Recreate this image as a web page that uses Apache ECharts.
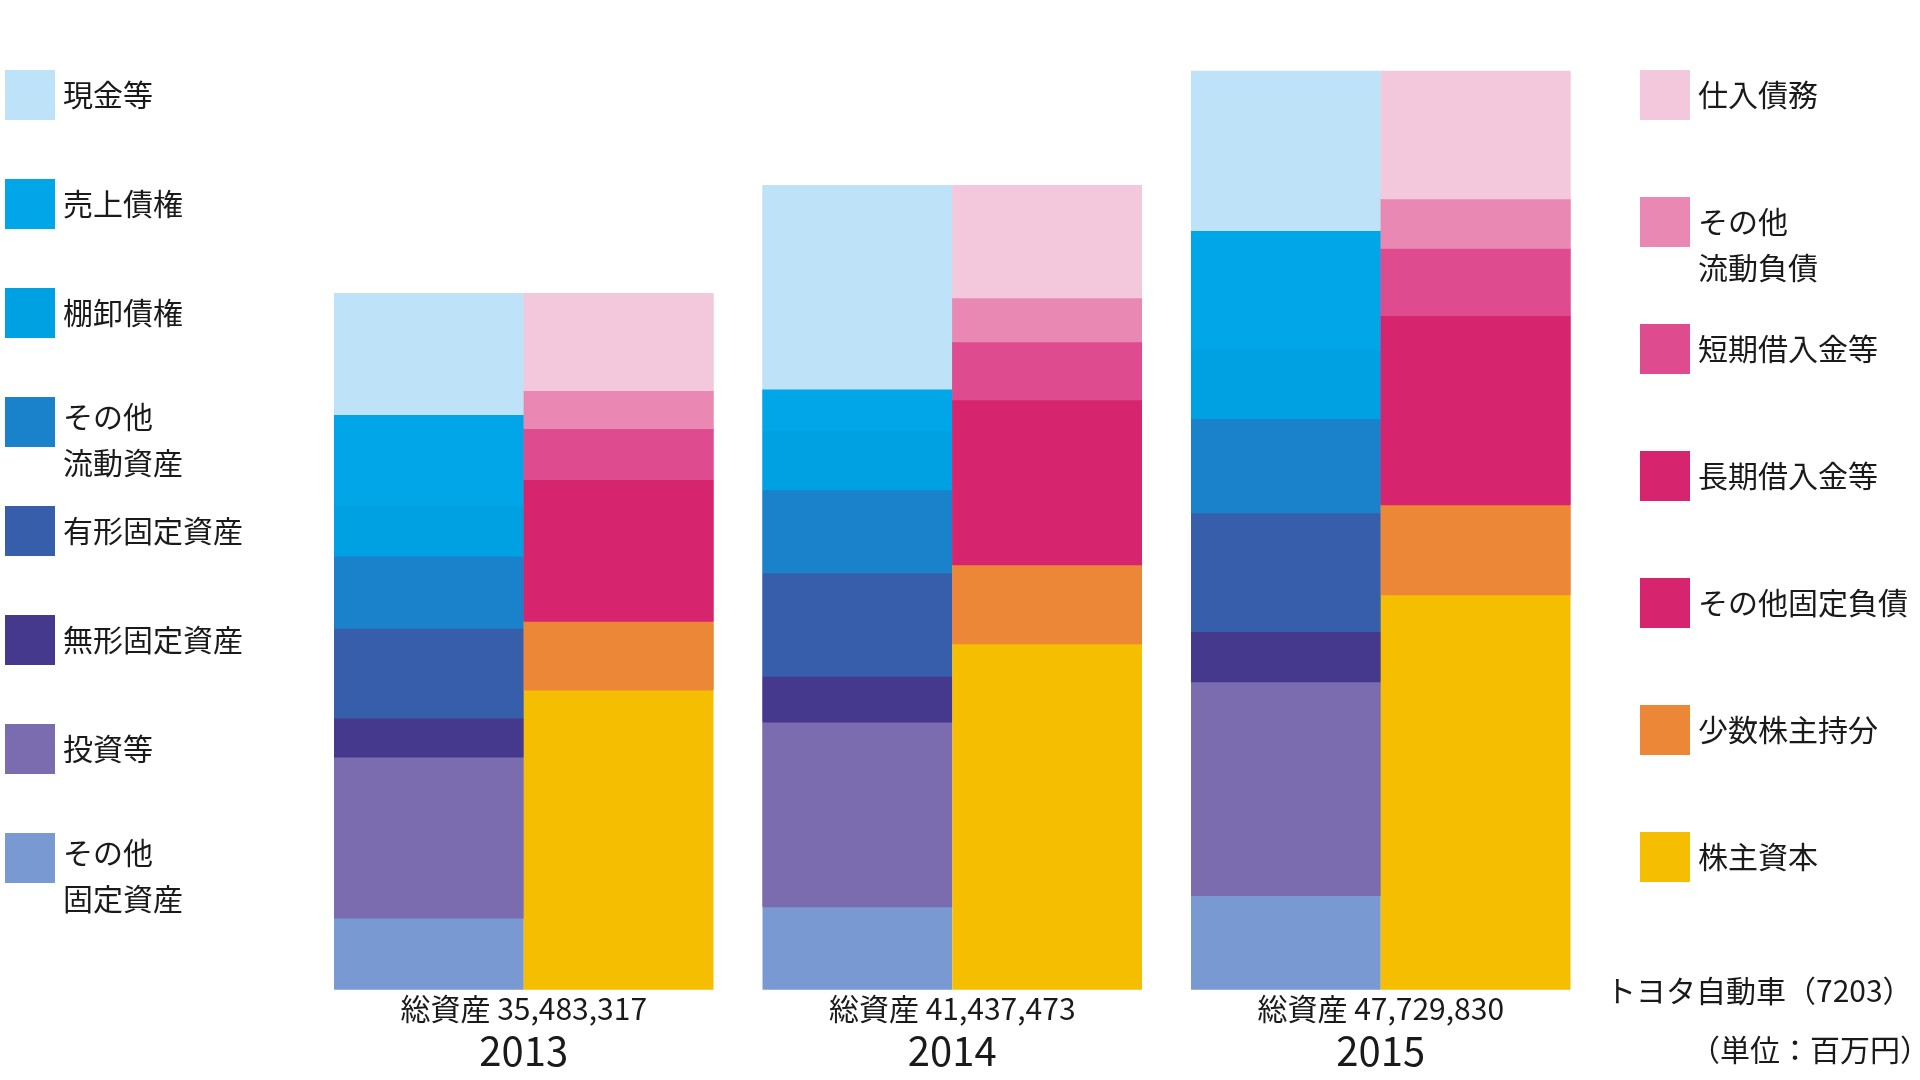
<!DOCTYPE html>
<html><head><meta charset="utf-8">
<script src="https://cdn.jsdelivr.net/npm/echarts@6/dist/echarts.min.js"></script>
<style>html,body{margin:0;padding:0;background:#fff}#c{width:1920px;height:1080px}</style>
</head><body><div id="c"></div>
<script>
// ---- data (百万円) ----
const years = ['2013', '2014', '2015'];
const totalAssets = [35483317, 41437473, 47729830];
const sides = ['資産', '負債・純資産'];

// assets, listed top to bottom
const assetNames = ['現金等', '売上債権', '棚卸債権', 'その他流動資産', '有形固定資産', '無形固定資産', '投資等', 'その他固定資産'];
const assetLegendLabels = ['現金等', '売上債権', '棚卸債権', 'その他\n流動資産', '有形固定資産', '無形固定資産', '投資等', 'その他\n固定資産'];
const cash = [6159000, 10471000, 8268000];
const receivables = [4614000, 2153000, 6196000];
const inventories = [2597000, 3044000, 3568000];
const otherCurrentAssets = [3677000, 4270000, 4893000];
const tangibleAssets = [4568000, 5331000, 6170000];
const intangibleAssets = [1991000, 2349000, 2607000];
const investments = [8200000, 9519000, 11099000];
const otherFixedAssets = [3677000, 4301000, 4929000];

// liabilities & equity, listed top to bottom
const liabNames = ['仕入債務', 'その他流動負債', '短期借入金等', '長期借入金等', 'その他固定負債', '少数株主持分', '株主資本'];
const liabLegendLabels = ['仕入債務', 'その他\n流動負債', '短期借入金等', '長期借入金等', 'その他固定負債', '少数株主持分', '株主資本'];
const payables = [4930000, 5779000, 6617000];
const otherCurrentLiab = [1946000, 2266000, 2576000];
const shortTermDebt = [2597000, 2987000, 3495000];
const longTermDebt = [5100000, 6000000, 7000000];
const otherFixedLiab = [2112000, 2488000, 2827000];
const minorityInterest = [3509000, 4074000, 4674000];
const shareholdersEquity = [15289000, 17842000, 20541000];

const companyLabel = 'トヨタ自動車（7203）';
const unitLabel = '（単位：百万円）';

// ---- styles / layout ----
const assetValues = [cash, receivables, inventories, otherCurrentAssets, tangibleAssets, intangibleAssets, investments, otherFixedAssets];
const liabValues = [payables, otherCurrentLiab, shortTermDebt, longTermDebt, otherFixedLiab, minorityInterest, shareholdersEquity];
const assetColors = ['#BEE2F8', '#00A6E8', '#00A1E3', '#1A82CA', '#365EAB', '#45398E', '#7B6CB0', '#7899D1'];
const liabColors = ['#F4C8DC', '#EA88B4', '#DE4B8E', '#D6246E', '#D6246E', '#EC8737', '#F6BE00'];

const FONT = '"Noto Sans CJK JP", "Noto Sans", sans-serif';
const TXT = '#1a1a1a';
const gridLefts = [334, 762.5, 1191];
const gridWidth = 379.5;
const gridTop = 70.8;
const gridHeight = 919;
const axisMax = [46805000, 47323000, 47729830];

const grids = [], xAxes = [], yAxes = [], series = [];
// same-colour shadow shifted 1px down hides anti-aliasing seams between stacked segments
function barStyle(c, isBottom) {
  return isBottom ? {color: c} : {color: c, shadowColor: c, shadowBlur: 0, shadowOffsetX: 0, shadowOffsetY: 1};
}
years.forEach((yr, i) => {
  grids.push({left: gridLefts[i], top: gridTop, width: gridWidth, height: gridHeight, containLabel: false});
  xAxes.push({type: 'category', gridIndex: i, data: sides, show: false});
  yAxes.push({type: 'value', gridIndex: i, min: 0, max: axisMax[i], show: false, splitLine: {show: false}});
  const stack = 'bs' + yr;
  for (let k = assetNames.length - 1; k >= 0; k--) {
    series.push({type: 'bar', name: assetNames[k], xAxisIndex: i, yAxisIndex: i, stack,
      barCategoryGap: '0%', barGap: '0%', silent: true,
      itemStyle: barStyle(assetColors[k], k === assetNames.length - 1), emphasis: {disabled: true},
      data: [assetValues[k][i], '-']});
  }
  for (let k = liabNames.length - 1; k >= 0; k--) {
    series.push({type: 'bar', name: liabNames[k], xAxisIndex: i, yAxisIndex: i, stack,
      barCategoryGap: '0%', barGap: '0%', silent: true,
      itemStyle: barStyle(liabColors[k], k === liabNames.length - 1), emphasis: {disabled: true},
      data: ['-', liabValues[k][i]]});
  }
});

const graphic = [];
function legendItem(x, top, color, label, textX, firstLineOffset) {
  graphic.push({type: 'rect', left: x, top: top, shape: {width: 50, height: 50}, style: {fill: color}, silent: true});
  label.split('\n').forEach((line, j) => {
    graphic.push({type: 'text', x: textX, y: top + 25 + firstLineOffset + j * 46,
      style: {text: line, font: '30px ' + FONT, fill: TXT, textAlign: 'left', textVerticalAlign: 'middle'}, silent: true});
  });
}
assetLegendLabels.forEach((lab, k) => {
  legendItem(5, 70 + k * 109, assetColors[k], lab, 63, lab.indexOf('\n') >= 0 ? -5 : 0);
});
liabLegendLabels.forEach((lab, k) => {
  legendItem(1640, 70 + k * 127, liabColors[k], lab, 1698, 0);
});
years.forEach((yr, i) => {
  const cx = gridLefts[i] + gridWidth / 2;
  graphic.push({type: 'text', x: cx, y: 1009,
    style: {text: '総資産 ' + totalAssets[i].toLocaleString('en-US'), font: '30px ' + FONT, fill: TXT, textAlign: 'center', textVerticalAlign: 'middle'}, silent: true});
  graphic.push({type: 'text', x: cx, y: 1051,
    style: {text: yr, font: '40px ' + FONT, fill: TXT, textAlign: 'center', textVerticalAlign: 'middle'}, silent: true});
});
graphic.push({type: 'text', x: 1606, y: 991,
  style: {text: companyLabel, font: '30px ' + FONT, fill: TXT, textAlign: 'left', textVerticalAlign: 'middle'}, silent: true});
graphic.push({type: 'text', x: 1690, y: 1050,
  style: {text: unitLabel, font: '30px ' + FONT, fill: TXT, textAlign: 'left', textVerticalAlign: 'middle'}, silent: true});

const chart = echarts.init(document.getElementById('c'), null, {renderer: 'canvas'});
chart.setOption({
  animation: false,
  backgroundColor: '#ffffff',
  textStyle: {fontFamily: FONT},
  grid: grids, xAxis: xAxes, yAxis: yAxes, series, graphic,
  tooltip: {show: false}
});
</script></body></html>
